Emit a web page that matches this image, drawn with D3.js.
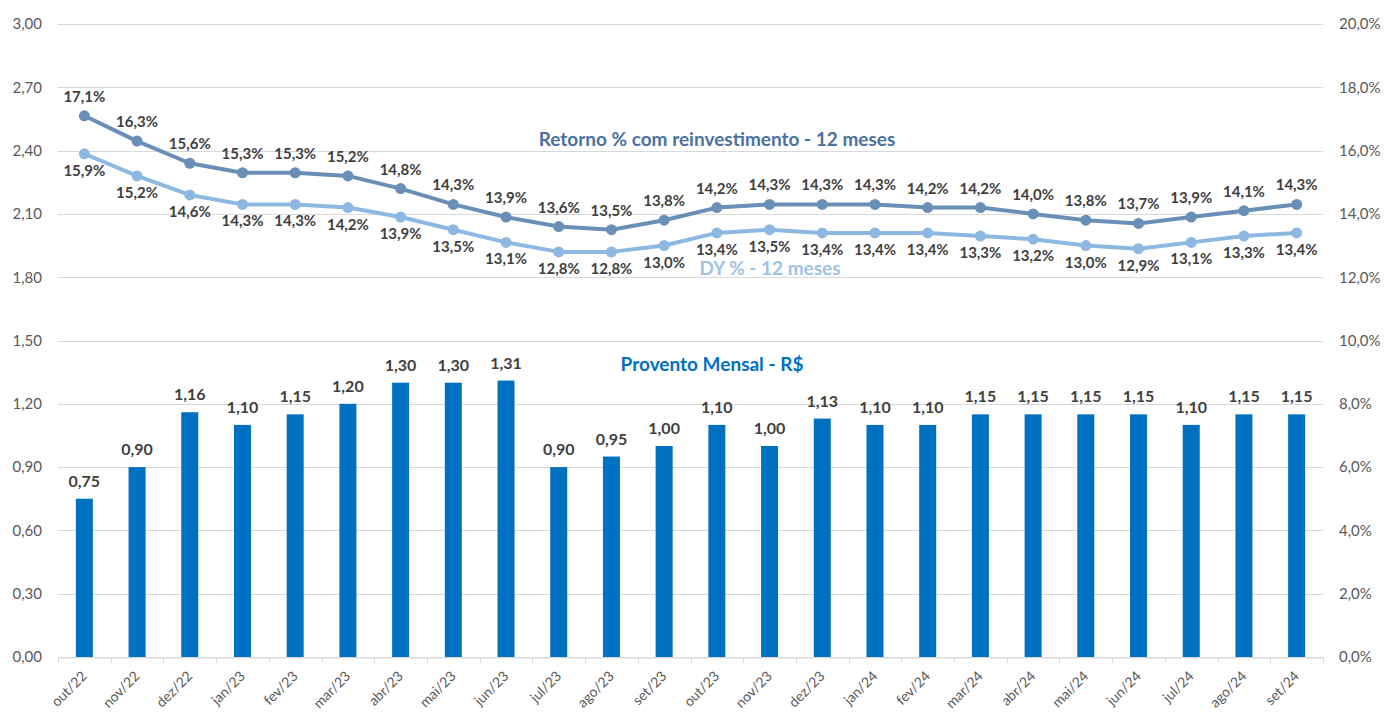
<!DOCTYPE html>
<html><head><meta charset="utf-8">
<script src="https://cdn.jsdelivr.net/npm/d3@7"></script>
<style>
html,body{margin:0;padding:0;background:#fff;}
svg{display:block;font-family:Lato,"Open Sans",sans-serif;}
</style></head>
<body>
<svg id="chart" width="1386" height="713"></svg>
<script>
const categories = ["out/22","nov/22","dez/22","jan/23","fev/23","mar/23","abr/23","mai/23","jun/23","jul/23","ago/23","set/23","out/23","nov/23","dez/23","jan/24","fev/24","mar/24","abr/24","mai/24","jun/24","jul/24","ago/24","set/24"];
const provento = [0.75,0.90,1.16,1.10,1.15,1.20,1.30,1.30,1.31,0.90,0.95,1.00,1.10,1.00,1.13,1.10,1.10,1.15,1.15,1.15,1.15,1.10,1.15,1.15];
const retorno = [17.1,16.3,15.6,15.3,15.3,15.2,14.8,14.3,13.9,13.6,13.5,13.8,14.2,14.3,14.3,14.3,14.2,14.2,14.0,13.8,13.7,13.9,14.1,14.3];
const dy = [15.9,15.2,14.6,14.3,14.3,14.2,13.9,13.5,13.1,12.8,12.8,13.0,13.4,13.5,13.4,13.4,13.4,13.3,13.2,13.0,12.9,13.1,13.3,13.4];
const leftTicks = [0,0.3,0.6,0.9,1.2,1.5,1.8,2.1,2.4,2.7,3.0];
const rightTicks = [0,2,4,6,8,10,12,14,16,18,20];
const seriesNames = ["Retorno % com reinvestimento - 12 meses","DY % - 12 meses","Provento Mensal - R$"];

const svg = d3.select("#chart");
const m = {left:58, right:1323, top:24, bottom:657};
const fmt2 = v => v.toFixed(2).replace(".", ",");
const fmt1 = v => v.toFixed(1).replace(".", ",") + "%";

const x = d3.scaleBand().domain(categories).range([m.left, m.right]).padding(0);
const yL = d3.scaleLinear().domain([0,3]).range([m.bottom, m.top]);
const yR = d3.scaleLinear().domain([0,20]).range([m.bottom, m.top]);
const cx = c => x(c) + x.bandwidth()/2;

// gridlines
svg.append("g").selectAll("line").data(leftTicks).join("line")
  .attr("x1", m.left).attr("x2", m.right)
  .attr("y1", d => Math.round(yL(d))+0.5).attr("y2", d => Math.round(yL(d))+0.5)
  .attr("stroke", "#d9d9d9").attr("stroke-width", 1);

// left axis
const gl = svg.append("g").attr("transform", `translate(${m.left},0)`)
  .call(d3.axisLeft(yL).tickValues(leftTicks).tickFormat(fmt2).tickSize(0).tickPadding(16));
gl.select(".domain").remove();
gl.selectAll("text").attr("fill", "#595959").style("font-size", "15px").style("font-family", "Lato, sans-serif");

// right axis
const gr = svg.append("g").attr("transform", `translate(${m.right},0)`)
  .call(d3.axisRight(yR).tickValues(rightTicks).tickFormat(d => d.toFixed(1).replace(".", ",") + "%").tickSize(0).tickPadding(16));
gr.select(".domain").remove();
gr.selectAll("text").attr("fill", "#595959").style("font-size", "15px").style("font-family", "Lato, sans-serif");

// x axis
const gx = svg.append("g").attr("transform", `translate(0,${Math.round(m.bottom)+0.5})`)
  .call(d3.axisBottom(x).tickSize(0).tickPadding(0));
gx.select(".domain").attr("stroke", "#d9d9d9");
gx.selectAll(".tick line").remove();
gx.selectAll(".tick text")
  .attr("fill", "#595959").style("font-size", "14px").style("font-family", "Lato, sans-serif")
  .attr("text-anchor", "end")
  .attr("x", 0).attr("y", 0).attr("dy", "0.35em")
  .attr("transform", "translate(0,16) rotate(-45)");
// boundary tick marks
const bounds = categories.map(c => x(c)).concat([m.right]);
svg.append("g").selectAll("line").data(bounds).join("line")
  .attr("x1", d => Math.round(d)+0.5).attr("x2", d => Math.round(d)+0.5)
  .attr("y1", m.bottom).attr("y2", m.bottom+6)
  .attr("stroke", "#d9d9d9");

// bars
const barW = 17;
svg.append("g").selectAll("rect").data(provento).join("rect")
  .attr("x", (d,i) => cx(categories[i]) - barW/2)
  .attr("y", d => yL(d))
  .attr("width", barW)
  .attr("height", d => m.bottom - yL(d))
  .attr("fill", "#0070c0");
svg.append("g").selectAll("text").data(provento).join("text")
  .attr("x", (d,i) => cx(categories[i]))
  .attr("y", d => yL(d) - 12)
  .attr("text-anchor", "middle")
  .attr("fill", "#404040").style("font-size", "16px").style("font-weight", "bold")
  .text(fmt2);

// lines
function drawLine(data, color, labelDy) {
  const line = d3.line().x((d,i) => cx(categories[i])).y(d => yR(d));
  svg.append("path").datum(data).attr("d", line)
    .attr("fill", "none").attr("stroke", color).attr("stroke-width", 4).attr("stroke-linejoin", "round");
  svg.append("g").selectAll("circle").data(data).join("circle")
    .attr("cx", (d,i) => cx(categories[i])).attr("cy", d => yR(d)).attr("r", 5.5)
    .attr("fill", color);
  svg.append("g").selectAll("text").data(data).join("text")
    .attr("x", (d,i) => cx(categories[i]))
    .attr("y", d => yR(d) + labelDy)
    .attr("text-anchor", "middle")
    .attr("fill", "#404040").style("font-size", "15px").style("font-weight", "bold")
    .text(fmt1);
}
drawLine(dy, "#8cb8e2", 22);
drawLine(retorno, "#6a8fb6", -14);

// series titles
svg.append("text").attr("x", 717).attr("y", 146).attr("text-anchor", "middle")
  .attr("fill", "#4a72a0").style("font-size", "19px").style("font-weight", "bold").text(seriesNames[0]);
svg.append("text").attr("x", 770).attr("y", 275).attr("text-anchor", "middle")
  .attr("fill", "#9dc3e6").style("font-size", "19px").style("font-weight", "bold").text(seriesNames[1]);
svg.append("text").attr("x", 712).attr("y", 371).attr("text-anchor", "middle")
  .attr("fill", "#0070c0").style("font-size", "19px").style("font-weight", "bold").text(seriesNames[2]);
</script>
</body></html>
